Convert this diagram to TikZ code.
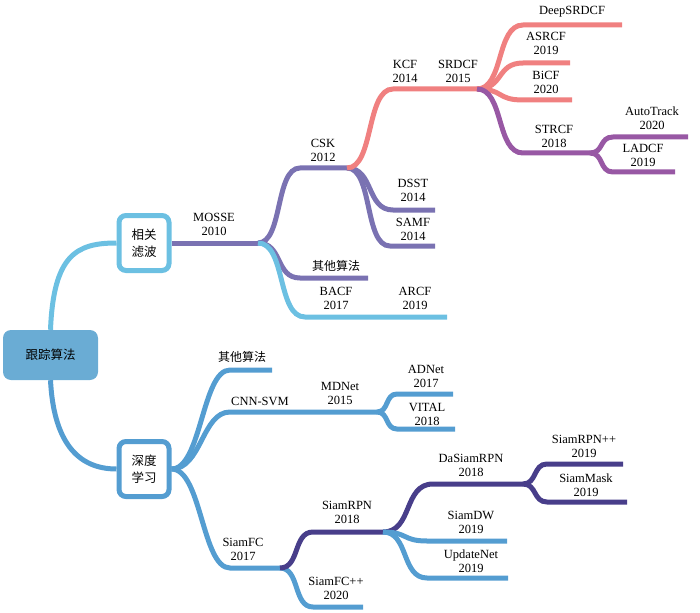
\documentclass[tikz,border=0pt]{standalone}
\usepackage{fontspec}
\setmainfont{Liberation Serif}
\newfontfamily\cjk{Noto Sans CJK SC}
\definecolor{cLB}{RGB}{108,192,226}
\definecolor{cB}{RGB}{84,157,209}
\definecolor{cRoot}{RGB}{106,172,212}
\definecolor{cPu}{RGB}{122,114,178}
\definecolor{cRed}{RGB}{240,128,128}
\definecolor{cMg}{RGB}{152,88,164}
\definecolor{cDp}{RGB}{72,62,138}
\tikzset{
  br/.style={line width=5pt},
  lbl/.style={align=center, inner sep=0pt, font=\fontsize{12.5}{14}\selectfont},
  clbl/.style={inner sep=0pt, font=\fontsize{12}{14}\selectfont\cjk},
  catbox/.style={draw, line width=5pt, fill=white, rounded corners=7pt, minimum width=50pt, minimum height=55pt, align=center, inner sep=0pt, font=\fontsize{12.5}{17}\selectfont\cjk},
  rootbox/.style={fill=cRoot, rounded corners=8pt, minimum width=95pt, minimum height=50pt, inner sep=0pt, font=\fontsize{12.5}{14}\selectfont\cjk}
}
\begin{document}
\begin{tikzpicture}[x=1pt,y=-1pt]
\useasboundingbox (0,0) rectangle (700,612);
% boxes
\node[rootbox] (root) at (50.5,355) {跟踪算法};
\node[catbox, draw=cLB] (xg) at (144,243) {相关\\滤波};
\node[catbox, draw=cB] (sd) at (144,469) {深度\\学习};
% coordinates upper
\coordinate (mosse) at (258,243);
\coordinate (cskA) at (300,168); \coordinate (cskB) at (347,168);
\coordinate (oth1A) at (300,278); \coordinate (oth1B) at (368,278);
\coordinate (bacfA) at (305,317); \coordinate (bacfB) at (447,317);
\coordinate (dsstA) at (393,210); \coordinate (dsstB) at (435,210);
\coordinate (samfA) at (390,246); \coordinate (samfB) at (435,246);
\coordinate (kcfA) at (393,89); \coordinate (srdcf) at (477,89);
\coordinate (deepA) at (523,25); \coordinate (deepB) at (622,25);
\coordinate (asrA) at (523,63); \coordinate (asrB) at (570,63);
\coordinate (bicA) at (523,100); \coordinate (bicB) at (572,100);
\coordinate (strA) at (523,153); \coordinate (strB) at (590,153);
\coordinate (autoA) at (613,137); \coordinate (autoB) at (688,137);
\coordinate (ladA) at (613,172); \coordinate (ladB) at (675,172);
% coordinates lower
\coordinate (oth2A) at (230,370); \coordinate (oth2B) at (272,370);
\coordinate (cnnA) at (230,412); \coordinate (mdnet) at (377,412);
\coordinate (siamfcA) at (230,568); \coordinate (siamfc) at (280,568);
\coordinate (adA) at (397,394); \coordinate (adB) at (453,394);
\coordinate (viA) at (397,429); \coordinate (viB) at (455,429);
\coordinate (rpnA) at (313,532); \coordinate (rpn) at (383,532);
\coordinate (fcppA) at (313,607); \coordinate (fcppB) at (363,607);
\coordinate (dasA) at (433,484); \coordinate (das) at (523,484);
\coordinate (dwA) at (427,541); \coordinate (dwB) at (507,541);
\coordinate (upA) at (427,578); \coordinate (upB) at (508,578);
\coordinate (rppA) at (547,464); \coordinate (rppB) at (623,464);
\coordinate (maskA) at (547,502); \coordinate (maskB) at (627,502);
% root connectors
\draw[br,cLB] (root.north) .. controls +(3,-75) and +(-40,0) .. (xg.west);
\draw[br,cB] (root.south) .. controls +(3,60) and +(-40,0) .. (sd.west);
% upper branches
\draw[br,cPu] (xg.east) -- (mosse);
\draw[br,cPu] (mosse) .. controls +(25,0) and +(-25,0) .. (cskA) -- (cskB);
\draw[br,cPu] (mosse) .. controls +(25,0) and +(-25,0) .. (oth1A) -- (oth1B);
\draw[br,cLB] (mosse) .. controls +(28,0) and +(-28,0) .. (bacfA) -- (bacfB);
\draw[br,cPu] (cskB) .. controls +(27,0) and +(-27,0) .. (dsstA) -- (dsstB);
\draw[br,cPu] (cskB) .. controls +(26,0) and +(-26,0) .. (samfA) -- (samfB);
\draw[br,cRed] (cskB) .. controls +(27,0) and +(-27,0) .. (kcfA) -- (srdcf);
\draw[br,cRed] (srdcf) .. controls +(27,0) and +(-27,0) .. (deepA) -- (deepB);
\draw[br,cRed] (srdcf) .. controls +(27,0) and +(-27,0) .. (asrA) -- (asrB);
\draw[br,cRed] (srdcf) .. controls +(27,0) and +(-27,0) .. (bicA) -- (bicB);
\draw[br,cMg] (srdcf) .. controls +(27,0) and +(-27,0) .. (strA) -- (strB);
\draw[br,cMg] (strB) .. controls +(14,0) and +(-14,0) .. (autoA) -- (autoB);
\draw[br,cMg] (strB) .. controls +(14,0) and +(-14,0) .. (ladA) -- (ladB);
% lower branches
\draw[br,cB] (sd.east) .. controls +(30,0) and +(-28,0) .. (oth2A) -- (oth2B);
\draw[br,cB] (sd.east) .. controls +(30,0) and +(-28,0) .. (cnnA) -- (mdnet);
\draw[br,cB] (sd.east) .. controls +(30,0) and +(-28,0) .. (siamfcA) -- (siamfc);
\draw[br,cB] (mdnet) .. controls +(12,0) and +(-12,0) .. (adA) -- (adB);
\draw[br,cB] (mdnet) .. controls +(12,0) and +(-12,0) .. (viA) -- (viB);
\draw[br,cB] (siamfc) .. controls +(20,0) and +(-20,0) .. (fcppA) -- (fcppB);
\draw[br,cDp] (siamfc) .. controls +(20,0) and +(-20,0) .. (rpnA) -- (rpn);
\draw[br,cDp] (rpn) .. controls +(30,0) and +(-30,0) .. (dasA) -- (das);
\draw[br,cB] (rpn) .. controls +(25,0) and +(-25,0) .. (dwA) -- (dwB);
\draw[br,cB] (rpn) .. controls +(26,0) and +(-26,0) .. (upA) -- (upB);
\draw[br,cDp] (das) .. controls +(14,0) and +(-14,0) .. (rppA) -- (rppB);
\draw[br,cDp] (das) .. controls +(14,0) and +(-14,0) .. (maskA) -- (maskB);
% labels upper
\node[lbl] (lMosse) at (214,224) {MOSSE\\2010};
\node[lbl] (lCsk) at (323,150) {CSK\\2012};
\node[lbl] (lDsst) at (413,190) {DSST\\2014};
\node[lbl] (lSamf) at (413,229) {SAMF\\2014};
\node[clbl] (lOth1) at (336,266) {其他算法};
\node[lbl] (lBacf) at (336,298) {BACF\\2017};
\node[lbl] (lArcf) at (415,298) {ARCF\\2019};
\node[lbl] (lKcf) at (405,71) {KCF\\2014};
\node[lbl] (lSrdcf) at (458,71) {SRDCF\\2015};
\node[lbl] (lDeep) at (572,12) {DeepSRDCF};
\node[lbl] (lAsr) at (546,43) {ASRCF\\2019};
\node[lbl] (lBic) at (546,82) {BiCF\\2020};
\node[lbl] (lStr) at (554,136) {STRCF\\2018};
\node[lbl] (lAuto) at (652,118) {AutoTrack\\2020};
\node[lbl] (lLad) at (643,155) {LADCF\\2019};
% labels lower
\node[clbl] (lOth2) at (242,357) {其他算法};
\node[lbl] (lCnn) at (260,401) {CNN-SVM};
\node[lbl] (lMd) at (340,393) {MDNet\\2015};
\node[lbl] (lAd) at (426,376) {ADNet\\2017};
\node[lbl] (lVi) at (427,414) {VITAL\\2018};
\node[lbl] (lFc) at (243,549) {SiamFC\\2017};
\node[lbl] (lRpn) at (347,512) {SiamRPN\\2018};
\node[lbl] (lFcpp) at (336,588) {SiamFC++\\2020};
\node[lbl] (lDas) at (471,465) {DaSiamRPN\\2018};
\node[lbl] (lRpp) at (584,446) {SiamRPN++\\2019};
\node[lbl] (lMask) at (586,485) {SiamMask\\2019};
\node[lbl] (lDw) at (471,522) {SiamDW\\2019};
\node[lbl] (lUp) at (471,561) {UpdateNet\\2019};
\end{tikzpicture}
\end{document}
